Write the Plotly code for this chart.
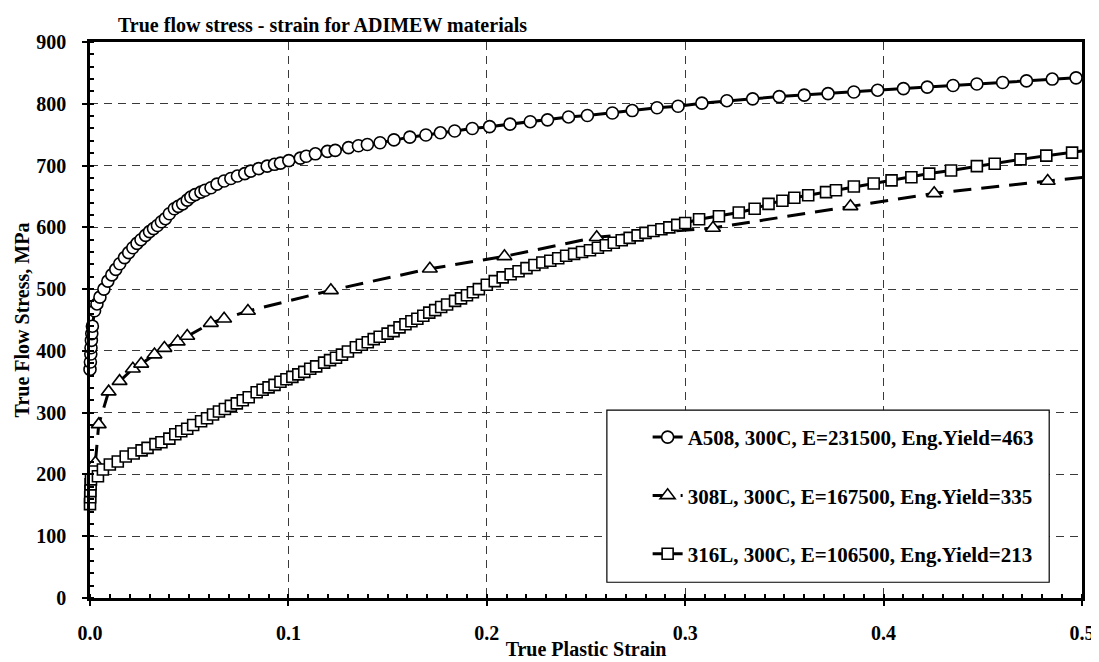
import plotly.graph_objects as go

# ---------------- data ----------------
series_names = [
    "A508, 300C, E=231500, Eng.Yield=463",
    "308L, 300C, E=167500, Eng.Yield=335",
    "316L, 300C, E=106500, Eng.Yield=213",
]

a508_strain = [0.0, 0.0002, 0.0004, 0.0005, 0.0007, 0.0009, 0.0012, 0.0023, 0.0035,
               0.005, 0.007, 0.009, 0.011, 0.013, 0.015, 0.0174, 0.0195, 0.0216, 0.0237,
               0.0257, 0.028, 0.030, 0.032, 0.034, 0.036, 0.038, 0.040, 0.0425, 0.0445,
               0.0467, 0.049, 0.0508, 0.053, 0.0559, 0.058, 0.061, 0.064, 0.0676, 0.071,
               0.0743, 0.078, 0.081, 0.085, 0.0893, 0.093, 0.096, 0.1002, 0.106, 0.109,
               0.1136, 0.1197, 0.1236, 0.1303, 0.1353, 0.1398, 0.1462, 0.1532, 0.1612,
               0.1693, 0.1766, 0.1838, 0.1927, 0.2014, 0.2117, 0.2219, 0.2306, 0.2412,
               0.2507, 0.2633, 0.2733, 0.2858, 0.2964, 0.3084, 0.321, 0.334, 0.3474,
               0.360, 0.372, 0.385, 0.397, 0.410, 0.422, 0.435, 0.447, 0.460, 0.472,
               0.485, 0.497]
a508_stress = [370, 382, 395, 405, 417, 428, 440, 465, 476,
               487, 500, 513, 523, 532, 541, 551, 559, 567, 574,
               580, 587, 593, 598, 603, 609, 614, 622, 630, 634,
               638, 644, 649, 653, 657, 660, 664, 670, 675, 679,
               683, 687, 691, 695, 699, 702, 704, 708, 712, 715,
               719, 723, 724.5, 729, 732, 734, 737, 741.5, 746,
               749.5, 753, 756, 760, 763, 767, 771, 774, 778.7,
               781, 785, 789, 793.5, 796, 801, 805, 808, 811.6,
               814, 816.5, 819, 822, 824.5, 827, 829.5, 832, 834.5, 837,
               840, 842]

l308_strain = [0.0027, 0.0044, 0.0094, 0.0149, 0.0216, 0.0258, 0.0325, 0.0375,
               0.0442, 0.049, 0.0609, 0.0676, 0.0796, 0.1214, 0.1713, 0.2089,
               0.2554, 0.314, 0.3833, 0.4255, 0.4827, 0.54]
l308_stress = [219, 281, 334, 351, 371, 379, 394, 404.5,
               415, 424, 445, 452, 464.5, 498, 533, 553,
               584, 599, 634, 655, 675, 694]

l316_strain = [0.0, 0.0001, 0.0002, 0.0003, 0.0005, 0.004, 0.0065, 0.010, 0.014, 0.018,
               0.022, 0.026, 0.029, 0.033, 0.036, 0.040, 0.043, 0.046, 0.049, 0.052,
               0.056, 0.059, 0.062, 0.065, 0.068, 0.071, 0.074, 0.077, 0.080, 0.084,
               0.087, 0.090, 0.093, 0.096, 0.099, 0.102, 0.105, 0.108, 0.111, 0.114,
               0.118, 0.121, 0.124, 0.127, 0.130, 0.134, 0.137, 0.140, 0.143, 0.146,
               0.150, 0.153, 0.156, 0.159, 0.162, 0.165, 0.168, 0.171, 0.174, 0.177,
               0.180, 0.184, 0.187, 0.190, 0.193, 0.196, 0.200, 0.204, 0.208, 0.212,
               0.216, 0.220, 0.224, 0.228, 0.232, 0.236, 0.240, 0.244, 0.248, 0.252,
               0.256, 0.260, 0.264, 0.268, 0.272, 0.276, 0.280, 0.284, 0.288, 0.292,
               0.296, 0.300, 0.307, 0.317, 0.327, 0.335, 0.342, 0.349, 0.355, 0.362,
               0.371, 0.376, 0.385, 0.395, 0.404, 0.414, 0.423, 0.434, 0.447, 0.456,
               0.469, 0.482, 0.495, 0.508]
l316_stress = [152, 163, 173, 184, 192, 197, 208, 216, 221, 229,
               234, 239, 243, 249, 252, 258, 265, 270, 274, 280,
               286, 291, 297, 302, 306, 311, 315, 320, 325, 333,
               337, 341, 345, 350, 354, 358, 362, 366, 371, 375,
               381, 385, 389, 394, 399, 406, 410, 414, 419, 423,
               428, 432, 438, 443, 448, 452, 457, 462, 466, 471,
               475, 481, 485, 490, 495, 500, 507, 513, 519, 524,
               529, 534, 539, 543, 546, 550, 554, 557, 560, 563,
               567, 571, 575, 579, 583, 587, 591, 594, 597, 600,
               604, 607, 613, 618, 624, 630, 638, 643, 648, 652,
               657, 660, 666, 671, 676, 681, 687, 692, 699, 703,
               710, 716, 721, 727]

x_tick_vals = [0.0, 0.1, 0.2, 0.3, 0.4, 0.5]
x_tick_text = ["0.0", "0.1", "0.2", "0.3", "0.4", "0.5"]
y_tick_vals = [0, 100, 200, 300, 400, 500, 600, 700, 800, 900]

title_text = "True flow stress - strain for ADIMEW materials"
x_title = "True Plastic Strain"
y_title = "True Flow Stress, MPa"

# ---------------- figure ----------------
FONT = "Liberation Serif"
W, H = 1099, 662
ML, MR, MT, MB = 82, 19, 34, 63
PW, PH = W - ML - MR, H - MT - MB


def px_x(p):
    return (p - ML) / PW


def px_y(p):
    return (H - MB - p) / PH


fig = go.Figure()

fig.add_trace(go.Scatter(
    x=a508_strain, y=a508_stress, name=series_names[0], legendgroup="a",
    mode="lines+markers", cliponaxis=False,
    line=dict(color="black", width=3),
    marker=dict(symbol="circle", size=12, color="white",
                line=dict(color="black", width=1.6)),
))
fig.add_trace(go.Scatter(
    x=l308_strain, y=l308_stress, name=series_names[1], legendgroup="b",
    mode="lines+markers", cliponaxis=False,
    line=dict(color="black", width=3, dash="18px,10px"),
    marker=dict(symbol="triangle-up", size=13, color="white",
                line=dict(color="black", width=1.6)),
))
fig.add_trace(go.Scatter(
    x=l316_strain, y=l316_stress, name=series_names[2], legendgroup="c",
    mode="lines+markers", cliponaxis=False,
    line=dict(color="black", width=3),
    marker=dict(symbol="square", size=11, color="white",
                line=dict(color="black", width=1.6)),
))

tick_font = dict(family=FONT, size=20, color="black", weight="bold")
axis_common = dict(
    showline=True, linecolor="black", linewidth=2.5, mirror=True,
    showgrid=True, gridcolor="#3a3a3a", gridwidth=1, griddash="8px,6px",
    zeroline=False, ticks="outside", ticklen=5, tickwidth=1.5, tickcolor="black",
    tickfont=tick_font,
)

fig.update_xaxes(
    range=[0, 0.5], tickvals=x_tick_vals, ticktext=x_tick_text,
    ticklabelstandoff=10,
    title=dict(text=x_title, font=tick_font, standoff=0),
    minor=dict(ticks="inside", dtick=0.01, ticklen=4, tickcolor="black", showgrid=False),
    **axis_common,
)
fig.update_yaxes(
    range=[0, 900], tickvals=y_tick_vals,
    ticklabelstandoff=12,
    title=dict(text=y_title, font=tick_font, standoff=2),
    minor=dict(ticks="inside", dtick=20, ticklen=4, tickcolor="black", showgrid=False),
    **axis_common,
)

# legend frame (the reference box is larger than the entries)
fig.add_shape(type="rect", xref="paper", yref="paper",
              x0=px_x(602), x1=px_x(1047), y0=px_y(583), y1=px_y(408),
              line=dict(color="black", width=1.2), fillcolor="white", layer="above")

fig.update_layout(
    width=W, height=H,
    margin=dict(l=ML, r=MR, t=MT, b=MB),
    paper_bgcolor="white", plot_bgcolor="white",
    title=dict(text=title_text, x=110 / W, xanchor="left", xref="container",
               y=1 - 17 / H, yanchor="middle", yref="container",
               font=dict(family=FONT, size=20, color="black", weight="bold")),
    legend=dict(
        x=px_x(643), y=px_y(415), xanchor="left", yanchor="top",
        bgcolor="rgba(0,0,0,0)", borderwidth=0,
        font=dict(family=FONT, size=21, color="black", weight="bold"),
        tracegroupgap=28,
    ),
    showlegend=True,
)

fig.write_html("out.html")
